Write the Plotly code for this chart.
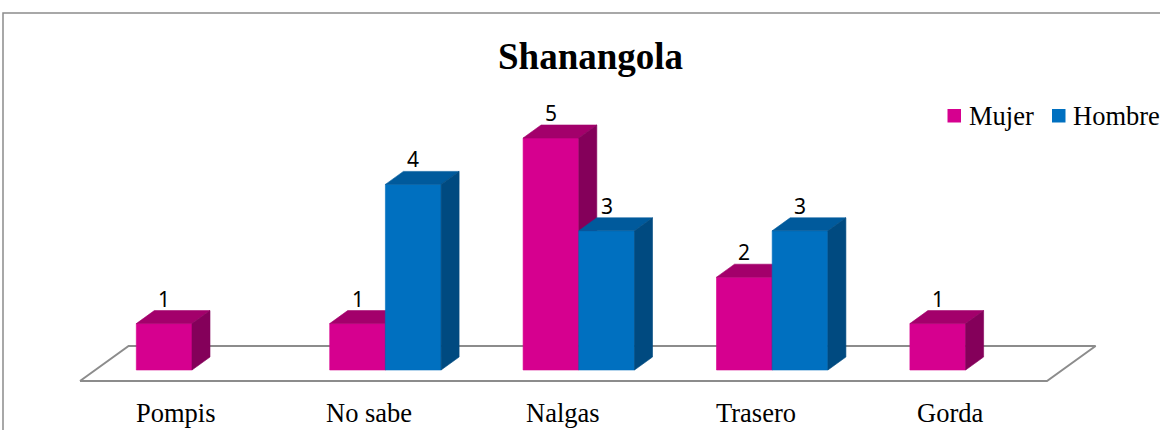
import plotly.graph_objects as go

# ---- data -------------------------------------------------------------
categories = ["Pompis", "No sabe", "Nalgas", "Trasero", "Gorda"]
series_names = ["Mujer", "Hombre"]
mujer = [1, 1, 5, 2, 1]
hombre = [0, 4, 3, 3, 0]
title_text = "Shanangola"

# ---- projection geometry (pixels) -------------------------------------
W, H = 1160, 430
CAT_PX = 193.4      # horizontal pixels per category step
UNIT_PX = 46.4      # vertical pixels per value unit
X0_PX = 192.0       # pixel x of the first category centre (front plane)
Y0_PX = 370.0       # pixel y of the zero baseline (front plane)
BAR_W = 0.288       # bar width in category units
DEPTH_PX = (18.0, 13.0)  # receding depth of a bar (right, up)

x_range = [(0 - X0_PX) / CAT_PX, (W - X0_PX) / CAT_PX]
y_range = [(Y0_PX - H) / UNIT_PX, Y0_PX / UNIT_PX]
ddx = DEPTH_PX[0] / CAT_PX
ddy = DEPTH_PX[1] / UNIT_PX

colors = {
    "Mujer": {"front": "#D6008F", "top": "#A3006B", "side": "#84005A"},
    "Hombre": {"front": "#0070C0", "top": "#005A9C", "side": "#004A80"},
}
SERIF = "Liberation Serif"

fig = go.Figure()

# floor parallelogram
n = len(categories)
fx0, fx1 = -0.5, n - 0.5
f_front, f_back = -0.85, 1.85
floor_x = [fx0 + f_front * ddx, fx1 + f_front * ddx, fx1 + f_back * ddx,
           fx0 + f_back * ddx, fx0 + f_front * ddx]
floor_y = [f_front * ddy, f_front * ddy, f_back * ddy, f_back * ddy, f_front * ddy]
fig.add_trace(go.Scatter(x=floor_x, y=floor_y, mode="lines",
                         line=dict(color="#8C8C8C", width=2),
                         hoverinfo="skip", showlegend=False))


def face(xs, ys, color):
    fig.add_trace(go.Scatter(x=xs + [xs[0]], y=ys + [ys[0]], mode="lines",
                             fill="toself", fillcolor=color,
                             line=dict(color=color, width=0.6),
                             hoverinfo="skip", showlegend=False))


annotations = []
for i, cat in enumerate(categories):
    for name, values, off in (("Mujer", mujer, -BAR_W), ("Hombre", hombre, 0.0)):
        v = values[i]
        if v <= 0:
            continue
        c = colors[name]
        x0, x1 = i + off, i + off + BAR_W
        # front
        face([x0, x1, x1, x0], [0, 0, v, v], c["front"])
        # top
        face([x0, x1, x1 + ddx, x0 + ddx], [v, v, v + ddy, v + ddy], c["top"])
        # right side
        face([x1, x1 + ddx, x1 + ddx, x1], [0, ddy, v + ddy, v], c["side"])
        annotations.append(dict(x=(x0 + x1) / 2, y=v, xref="x", yref="y",
                                text=str(v), showarrow=False, yshift=25,
                                yanchor="middle",
                                font=dict(family="Noto Sans", size=21, color="black")))
    # category label below the floor
    annotations.append(dict(x=i, y=(Y0_PX - 413) / UNIT_PX, xref="x", yref="y",
                            text=cat, showarrow=False, xshift=-16, yanchor="middle",
                            font=dict(family=SERIF, size=26.5, color="black")))

# legend: colour key squares and names
shapes = [dict(type="rect", xref="paper", yref="paper",
               x0=3 / W, x1=1.01, y0=-0.05, y1=1 - 13 / H,
               line=dict(color="#8C8C8C", width=1.5))]
legend_pos = {"Mujer": 947.5, "Hombre": 1052.0}
for name in series_names:
    lx = legend_pos[name]
    shapes.append(dict(type="rect", xref="paper", yref="paper",
                       x0=lx / W, x1=(lx + 13.5) / W,
                       y0=1 - 122.5 / H, y1=1 - 109 / H,
                       fillcolor=colors[name]["front"], line=dict(width=0)))
    annotations.append(dict(x=(lx + 19) / W, y=1 - 116 / H, xref="paper", yref="paper",
                            text=name, showarrow=False, xanchor="left", yanchor="middle",
                            font=dict(family=SERIF, size=26.5, color="black")))

annotations.append(dict(x=590 / W, y=1 - 57 / H, xref="paper", yref="paper",
                        text="<b>%s</b>" % title_text, showarrow=False,
                        yanchor="middle",
                        font=dict(family=SERIF, size=37, color="black")))

fig.update_layout(
    width=W, height=H,
    margin=dict(l=0, r=0, t=0, b=0),
    paper_bgcolor="white", plot_bgcolor="white",
    xaxis=dict(range=x_range, visible=False, fixedrange=True),
    yaxis=dict(range=y_range, visible=False, fixedrange=True),
    showlegend=False,
    annotations=annotations,
    shapes=shapes,
)

fig.write_html("out.html")
